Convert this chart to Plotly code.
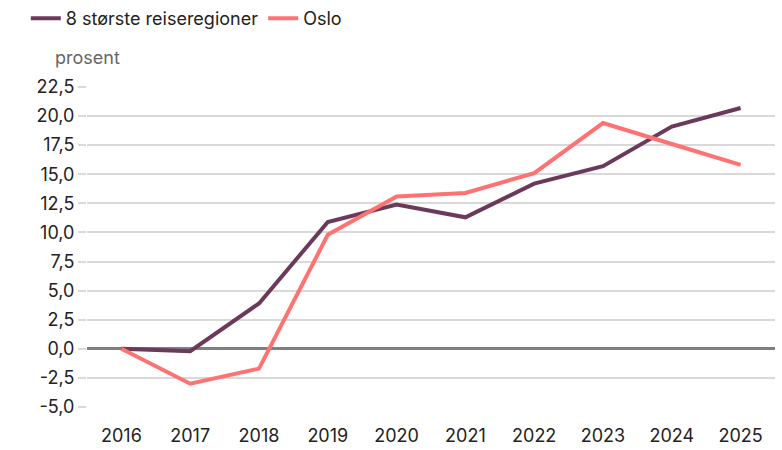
import plotly.graph_objects as go

years = ["2016", "2017", "2018", "2019", "2020", "2021", "2022", "2023", "2024", "2025"]
regioner = [0.0, -0.2, 3.9, 10.9, 12.4, 11.3, 14.2, 15.7, 19.1, 20.7]
oslo = [0.0, -3.0, -1.7, 9.8, 13.1, 13.4, 15.1, 19.4, 17.6, 15.8]
y_ticks = [-5.0, -2.5, 0.0, 2.5, 5.0, 7.5, 10.0, 12.5, 15.0, 17.5, 20.0, 22.5]
y_labels = [f"{v:.1f}".replace(".", ",") for v in y_ticks]

FONT = "Inter, Roboto, Arial, sans-serif"
W, H = 782, 450
ML, MR, MT, MB = 87, 7, 87, 43

fig = go.Figure()
fig.add_trace(go.Scatter(x=years, y=regioner, mode="lines", name="8 største reiseregioner",
                         line=dict(color="#6b3a5b", width=4)))
fig.add_trace(go.Scatter(x=years, y=oslo, mode="lines", name="Oslo",
                         line=dict(color="#ff7272", width=4)))

fig.update_layout(
    width=W, height=H,
    margin=dict(l=ML, r=MR, t=MT, b=MB),
    plot_bgcolor="white", paper_bgcolor="white",
    font=dict(family=FONT, size=18, color="#222222"),
    showlegend=True,
    legend=dict(orientation="h", xref="container", yref="container",
                x=0.033, y=1.0, xanchor="left", yanchor="top",
                font=dict(size=18, color="#222222"), itemwidth=30,
                tracegroupgap=0, bgcolor="rgba(0,0,0,0)"),
    xaxis=dict(type="category", range=[-0.5, 9.5], showgrid=False, zeroline=False,
               showline=False, ticks="", tickfont=dict(size=18), ticklabelstandoff=16,
               automargin=False),
    yaxis=dict(range=[-5, 22.5], tickvals=y_ticks, ticktext=y_labels,
               showgrid=True, gridcolor="#d9d9d9", gridwidth=1.5,
               zeroline=True, zerolinecolor="#7f7f7f", zerolinewidth=2.5,
               ticks="outside", ticklen=8, tickcolor="#d9d9d9", tickwidth=1.5,
               showline=False, tickfont=dict(size=18), ticklabelstandoff=0,
               automargin=False),
    annotations=[dict(text="prosent", xref="paper", yref="paper",
                      x=-(ML - 53) / (W - ML - MR), y=1 + (MT - 57) / (H - MT - MB),
                      xanchor="left", yanchor="middle", showarrow=False,
                      font=dict(size=18, color="#666666"))],
)

fig.write_html("out.html")
